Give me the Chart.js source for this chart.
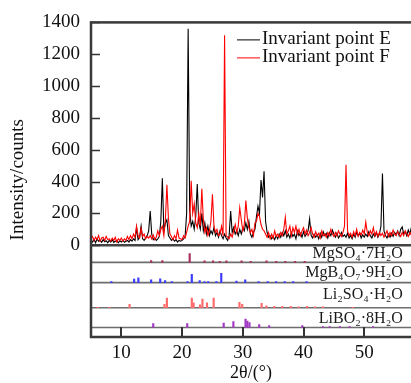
<!DOCTYPE html>
<html>
<head>
<meta charset="utf-8">
<script src="https://cdn.jsdelivr.net/npm/chart.js@4/dist/chart.umd.min.js"></script>
<style>
  html, body { margin: 0; padding: 0; background: #fff; }
</style>
</head>
<body>
<canvas id="xrd-chart" width="411" height="383"></canvas>
<script>
// 2θ grid (degrees) shared by both measured patterns
const twoTheta = [
  5, 5.25, 5.5, 5.75, 6, 6.25, 6.5, 6.75, 7, 7.25, 7.5, 7.75, 8, 8.25, 8.5, 8.75,
  9, 9.25, 9.5, 9.75, 10, 10.25, 10.5, 10.75, 11, 11.25, 11.5, 11.75, 12, 12.25, 12.5, 12.75,
  13, 13.25, 13.5, 13.75, 14, 14.25, 14.5, 14.75, 15, 15.25, 15.5, 15.75, 16, 16.25, 16.5, 16.75,
  17, 17.25, 17.5, 17.75, 18, 18.25, 18.5, 18.75, 19, 19.25, 19.5, 19.75, 20, 20.25, 20.5, 20.75,
  21, 21.25, 21.5, 21.75, 22, 22.25, 22.5, 22.75, 23, 23.25, 23.5, 23.75, 24, 24.25, 24.5, 24.75,
  25, 25.25, 25.5, 25.75, 26, 26.25, 26.5, 26.75, 27, 27.25, 27.5, 27.75, 28, 28.25, 28.5, 28.75,
  29, 29.25, 29.5, 29.75, 30, 30.25, 30.5, 30.75, 31, 31.25, 31.5, 31.75, 32, 32.25, 32.5, 32.75,
  33, 33.25, 33.5, 33.75, 34, 34.25, 34.5, 34.75, 35, 35.25, 35.5, 35.75, 36, 36.25, 36.5, 36.75,
  37, 37.25, 37.5, 37.75, 38, 38.25, 38.5, 38.75, 39, 39.25, 39.5, 39.75, 40, 40.25, 40.5, 40.75,
  41, 41.25, 41.5, 41.75, 42, 42.25, 42.5, 42.75, 43, 43.25, 43.5, 43.75, 44, 44.25, 44.5, 44.75,
  45, 45.25, 45.5, 45.75, 46, 46.25, 46.5, 46.75, 47, 47.25, 47.5, 47.75, 48, 48.25, 48.5, 48.75,
  49, 49.25, 49.5, 49.75, 50, 50.25, 50.5, 50.75, 51, 51.25, 51.5, 51.75, 52, 52.25, 52.5, 52.75,
  53, 53.25, 53.5, 53.75, 54, 54.25, 54.5, 54.75, 55, 55.25, 55.5, 55.75, 56, 56.25, 56.5, 56.75,
  57, 57.25, 57.5, 57.75,
];

// Invariant point E (black)
const intensityE = [
  30, 20, 35, 15, 40, 25, 30, 18, 35, 22, 28, 15, 30, 20, 35, 18,
  25, 30, 15, 28, 20, 32, 18, 25, 30, 20, 35, 25, 40, 30, 110, 35,
  50, 120, 40, 30, 45, 60, 90, 215, 70, 35, 45, 30, 40, 55, 150, 420,
  90, 140, 160, 60, 45, 30, 40, 25, 35, 20, 30, 25, 30, 40, 55, 200,
  1360, 220, 120, 150, 100, 180, 385, 140, 100, 200, 90, 140, 70, 120, 60, 90,
  70, 110, 60, 80, 50, 90, 60, 40, 70, 45, 30, 60, 215, 80, 110, 70,
  90, 60, 100, 70, 110, 90, 140, 100, 150, 70, 50, 80, 100, 180, 245, 200,
  410, 300, 465, 150, 80, 50, 60, 40, 55, 35, 60, 40, 70, 50, 80, 60,
  90, 50, 70, 45, 80, 55, 70, 40, 90, 60, 75, 50, 85, 55, 70, 90,
  165, 60, 45, 70, 50, 65, 40, 75, 50, 85, 60, 75, 45, 80, 60, 95,
  70, 50, 75, 45, 60, 80, 55, 65, 50, 75, 45, 60, 40, 70, 50, 80,
  60, 75, 45, 65, 50, 70, 55, 85, 60, 45, 70, 55, 80, 50, 70, 120,
  450, 90, 60, 45, 70, 50, 75, 55, 80, 65, 90, 60, 100, 115, 70, 85,
  60, 95, 70, 110,
];

// Invariant point F (red)
const intensityF = [
  45, 55, 30, 50, 35, 60, 25, 45, 50, 30, 55, 35, 40, 25, 45, 30,
  50, 20, 40, 30, 45, 25, 40, 30, 55, 35, 60, 40, 70, 50, 120, 60,
  45, 105, 55, 70, 40, 55, 45, 60, 40, 65, 35, 50, 90, 60, 100, 120,
  60, 160, 380, 170, 70, 55, 35, 60, 40, 95, 45, 40, 35, 60, 45, 80,
  120, 150, 405, 200, 260, 140, 110, 200, 120, 355, 160, 80, 110, 60, 90, 150,
  320, 120, 80, 100, 60, 70, 120, 60, 1320, 60, 50, 40, 70, 50, 90, 130,
  80, 120, 235, 160, 90, 130, 280, 170, 110, 80, 100, 60, 140, 150, 200, 180,
  130, 100, 90, 70, 50, 80, 40, 70, 45, 90, 55, 70, 50, 80, 60, 100,
  175, 70, 90, 120, 60, 110, 80, 120, 70, 100, 60, 90, 110, 70, 95, 60,
  80, 110, 70, 50, 85, 60, 75, 45, 90, 60, 70, 50, 80, 60, 100, 70,
  55, 80, 60, 90, 70, 55, 80, 120, 505, 90, 60, 75, 50, 85, 60, 100,
  55, 80, 65, 95, 70, 145, 80, 60, 90, 70, 110, 60, 85, 55, 80, 60,
  75, 50, 70, 90, 55, 80, 60, 95, 70, 60, 85, 70, 55, 80, 60, 90,
  70, 55, 80, 65,
];

const seriesNames = ["Invariant point E", "Invariant point F"];
const seriesColors = ["#000000", "#ff0000"];

const xTicks = [10, 20, 30, 40, 50];
const yTicks = [0, 200, 400, 600, 800, 1000, 1200, 1400];

// Reference phases (stick patterns under the measured curves)
const phaseNames = ["MgSO₄·7H₂O", "MgB₄O₇·9H₂O", "Li₂SO₄·H₂O", "LiBO₂·8H₂O"];
const phaseColors = ["#a8305e", "#3c3cff", "#ff6a6a", "#a238c4"];
const phaseBaselines = [-108, -235, -393, -517];
const phaseLabelY = [-53, -176, -313, -460];

const mgso4Pos = [14.9, 16.75, 21.25, 23.7, 25.1, 26.2, 27.3, 29.8, 31.3, 33.9, 35.5, 37.0, 38.6, 40.2];
const mgso4Height = [12, 12, 55, 9, 9, 6, 9, 9, 6, 9, 6, 6, 6, 6];

const mgb4o7Pos = [8.35, 12.1, 12.8, 14.9, 16.4, 17.2, 18.3, 20.9, 21.6, 22.9, 23.7, 24.3, 25.65, 26.45, 28.95, 30.4, 32.6, 34.1, 35.5, 36.9, 38.3, 40.5];
const mgb4o7Height = [6, 22, 30, 18, 24, 12, 6, 6, 52, 12, 6, 6, 6, 58, 9, 18, 6, 6, 6, 6, 6, 6];

const li2so4Pos = [6.1, 8.0, 11.35, 17.1, 17.5, 21.6, 21.9, 22.95, 23.35, 24.1, 25.2, 29.45, 29.9, 33.1, 33.9, 35.2, 36.5, 37.9, 39.2, 40.6, 41.9, 43.2, 48.1];
const li2so4Height = [3, 3, 22, 22, 61, 61, 30, 18, 55, 30, 61, 34, 22, 28, 12, 9, 9, 9, 6, 9, 6, 6, 3];

const libo2Pos = [15.25, 20.85, 26.85, 28.45, 30.45, 30.75, 31.1, 32.7, 34.35, 39.8, 43.2, 44.3, 46.0, 47.6, 51.45];
const libo2Height = [25, 25, 28, 37, 52, 40, 30, 18, 12, 12, 6, 6, 6, 6, 6];

const X_MIN = 5;
const X_MAX = 57.7;
const Y_MIN = -577;
const Y_MAX = 1400;

const SERIF = "'Liberation Serif', 'Times New Roman', serif";

const phaseSticks = [
  [mgso4Pos, mgso4Height],
  [mgb4o7Pos, mgb4o7Height],
  [li2so4Pos, li2so4Height],
  [libo2Pos, libo2Height],
];

function toPoints(xs, ys) {
  return xs.map((x, i) => ({ x: x, y: ys[i] }));
}

const datasets = [
  {
    type: "line",
    label: seriesNames[0],
    data: toPoints(twoTheta, intensityE),
    borderColor: seriesColors[0],
    borderWidth: 1.1,
    pointRadius: 0,
    tension: 0,
    order: 2,
  },
  {
    type: "line",
    label: seriesNames[1],
    data: toPoints(twoTheta, intensityF),
    borderColor: seriesColors[1],
    borderWidth: 1.1,
    pointRadius: 0,
    tension: 0,
    order: 1,
  },
  // zero line separating the patterns from the reference sticks
  {
    type: "line",
    label: "zero",
    data: [{ x: X_MIN, y: 0 }, { x: X_MAX, y: 0 }],
    borderColor: "#444",
    borderWidth: 2.5,
    pointRadius: 0,
    order: 3,
  },
];

phaseBaselines.forEach((b, i) => {
  datasets.push({
    type: "line",
    label: phaseNames[i] + " base",
    data: [{ x: X_MIN, y: b }, { x: X_MAX, y: b }],
    borderColor: "#6e6e6e",
    borderWidth: 1.6,
    pointRadius: 0,
    order: 3,
  });
  const [pos, h] = phaseSticks[i];
  datasets.push({
    type: "bar",
    label: phaseNames[i],
    data: pos.map((p, k) => ({ x: p, y: [b, b + h[k]] })),
    backgroundColor: phaseColors[i],
    borderWidth: 0,
    barThickness: 1.5,
    grouped: false,
    order: 0,
  });
});

// inward ticks, frame, phase names and the legend
const decorations = {
  id: "decorations",
  afterDatasetsDraw(chart) {
    const { ctx, chartArea: a, scales } = chart;
    const x = scales.x;
    const y = scales.y;
    ctx.save();

    ctx.strokeStyle = "#333";
    ctx.lineWidth = 1.5;
    yTicks.forEach((v) => {
      const py = Math.round(y.getPixelForValue(v)) + 0.5;
      ctx.beginPath();
      ctx.moveTo(a.left, py);
      ctx.lineTo(a.left + 9, py);
      ctx.stroke();
    });
    ctx.lineWidth = 2;
    xTicks.forEach((v) => {
      const px = Math.round(x.getPixelForValue(v));
      ctx.beginPath();
      ctx.moveTo(px, a.bottom);
      ctx.lineTo(px, a.bottom - 10);
      ctx.stroke();
    });

    ctx.strokeStyle = "#3a3a3a";
    ctx.lineWidth = 2.5;
    ctx.strokeRect(a.left, a.top, a.right - a.left + 2, a.bottom - a.top);

    // phase names, right aligned
    ctx.font = "16px " + SERIF;
    ctx.fillStyle = "#1a1a1a";
    ctx.textAlign = "right";
    ctx.textBaseline = "middle";
    phaseNames.forEach((n, i) => {
      ctx.fillText(n, x.getPixelForValue(56.35), y.getPixelForValue(phaseLabelY[i]));
    });

    // legend, top right inside the plot
    ctx.font = "19px " + SERIF;
    ctx.textAlign = "left";
    seriesNames.forEach((n, i) => {
      const ly = a.top + 17 + i * 18;
      ctx.strokeStyle = seriesColors[i];
      ctx.lineWidth = 1;
      ctx.beginPath();
      ctx.moveTo(a.left + 146, ly + 0.5);
      ctx.lineTo(a.left + 169, ly + 0.5);
      ctx.stroke();
      ctx.fillStyle = "#111";
      ctx.fillText(n, a.left + 171, ly);
    });

    ctx.restore();
  },
};

new Chart(document.getElementById("xrd-chart"), {
  type: "line",
  data: { datasets: datasets },
  plugins: [decorations],
  options: {
    responsive: false,
    animation: false,
    devicePixelRatio: 1,
    layout: { padding: { top: 15, right: 0, left: 0, bottom: 0 } },
    plugins: {
      legend: { display: false },
      tooltip: { enabled: false },
    },
    scales: {
      x: {
        type: "linear",
        min: X_MIN,
        max: X_MAX,
        offset: false,
        afterBuildTicks: (s) => {
          s.ticks = xTicks.map((v) => ({ value: v }));
        },
        afterFit: (s) => {
          s.height = 46;
        },
        ticks: { font: { family: SERIF, size: 19 }, color: "#111", padding: 5, autoSkip: false, maxRotation: 0, callback: (v) => String(v) },
        grid: { display: false, drawTicks: false, offset: false },
        border: { display: false },
        title: { display: true, text: "2θ/(°)", font: { family: SERIF, size: 18, lineHeight: 1 }, color: "#111", padding: { top: 0, bottom: 1 } },
      },
      y: {
        type: "linear",
        min: Y_MIN,
        max: Y_MAX,
        afterBuildTicks: (s) => {
          s.ticks = yTicks.map((v) => ({ value: v }));
        },
        afterFit: (s) => {
          s.width = 91;
        },
        ticks: { font: { family: SERIF, size: 19 }, color: "#111", padding: 11, callback: (v) => String(v) },
        grid: { display: false, drawTicks: false },
        border: { display: false },
        title: { display: true, text: "Intensity/counts", font: { family: SERIF, size: 19 }, color: "#111", padding: { top: 7, bottom: 0 } },
      },
    },
  },
});
</script>
</body>
</html>
